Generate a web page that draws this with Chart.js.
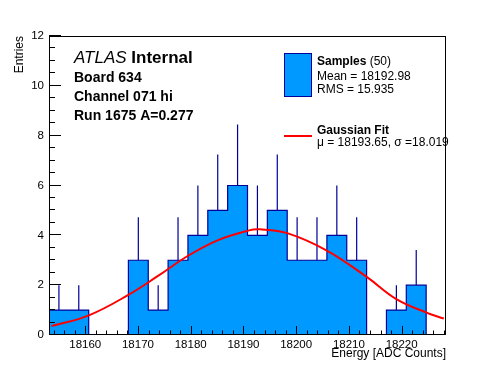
<!DOCTYPE html>
<html>
<head>
<meta charset="utf-8">
<title>Energy histogram</title>
<script src="https://cdn.jsdelivr.net/npm/chart.js@4/dist/chart.umd.min.js"></script>
<style>
  body { margin: 0; background: #fff; }
  #wrap { width: 496px; height: 372px; }
</style>
</head>
<body>
<div id="wrap"><canvas id="hist" width="496" height="372"></canvas></div>
<script>
// Histogram range and bin contents (20 bins)
var histLow = 18153.13;
var histHigh = 18228.41;
var counts = [1, 1, 0, 0, 3, 1, 3, 4, 5, 6, 4, 5, 3, 3, 4, 3, 0, 1, 2, 0];
// top of the error bar for each bin (null = no bar)
var errTop = [2.0, 2.0, null, null, 4.73, 2.0, 4.73, 6.0, 7.24, 8.45, 6.0, 7.24, 4.73, 4.73, 6.0, 4.73, null, 2.0, 3.41, null];

// Gaussian fit curve
var fitX = [18153.6, 18160.7, 18168.1, 18173.8, 18179.5, 18185.2, 18190.9, 18193.1, 18198.3, 18205.9, 18213.5, 18219.0, 18224.7, 18228.0];
var fitY = [0.36, 0.79, 1.60, 2.37, 3.18, 3.81, 4.19, 4.24, 4.09, 3.38, 2.31, 1.44, 0.90, 0.66];

// Axis ticks
var xTickStep = 10;
var yTicks = [0, 2, 4, 6, 8, 10, 12];

var FONT = "'Liberation Sans', Arial, Helvetica, sans-serif";
var fillBlue = "#0099ff";
var lineBlue = "#000099";

// build the step outline and error bars from the bins
var binW = (histHigh - histLow) / counts.length;
var stepPts = [{ x: histLow, y: 0 }];
var errPts = [];
for (var i = 0; i < counts.length; i++) {
  stepPts.push({ x: histLow + i * binW, y: counts[i] });
  if (errTop[i] !== null) {
    var c = histLow + (i + 0.5) * binW;
    errPts.push({ x: c, y: counts[i] });
    errPts.push({ x: c, y: errTop[i] });
    errPts.push({ x: c, y: null });
  }
}
stepPts.push({ x: histHigh, y: 0 });

var fitPts = fitX.map(function (x, k) { return { x: x, y: fitY[k] }; });

// inward ticks, frame, labels and legend (ROOT style)
var rootStyle = {
  id: "rootStyle",
  afterDatasetsDraw: function (chart) {
    var ctx = chart.ctx, a = chart.chartArea;
    var xs = chart.scales.x, ys = chart.scales.y;
    ctx.save();
    ctx.strokeStyle = "#000";
    ctx.lineWidth = 1;
    ctx.beginPath();
    // y ticks every 0.5
    for (var v = ys.min; v <= ys.max + 1e-6; v += 0.5) {
      var py = Math.round(ys.getPixelForValue(v)) - 0.5;
      var len = (Math.abs(v % 2) < 1e-6) ? 12 : 6;
      ctx.moveTo(a.left, py);
      ctx.lineTo(a.left + len, py);
    }
    // x ticks every 2
    for (var t = Math.ceil(xs.min / 2) * 2; t <= xs.max; t += 2) {
      var px = Math.round(xs.getPixelForValue(t)) + 0.5;
      var l2 = (t % xTickStep === 0) ? 9 : 4.5;
      ctx.moveTo(px, a.bottom);
      ctx.lineTo(px, a.bottom - l2);
    }
    ctx.stroke();
    ctx.strokeRect(a.left + 0.5, a.top + 0.5, a.right - a.left - 1, a.bottom - a.top - 1);
    ctx.restore();
  },
  afterDraw: function (chart) {
    var ctx = chart.ctx, a = chart.chartArea;
    ctx.save();
    ctx.fillStyle = "#000";
    ctx.textBaseline = "alphabetic";

    // axis titles
    ctx.font = "12px " + FONT;
    ctx.textAlign = "right";
    ctx.fillText("Energy [ADC Counts]", a.right, 357);
    ctx.save();
    ctx.translate(23, a.top);
    ctx.rotate(-Math.PI / 2);
    ctx.fillText("Entries", 0, 0);
    ctx.restore();

    // ATLAS label block
    ctx.textAlign = "left";
    ctx.font = "italic 17px " + FONT;
    ctx.fillText("ATLAS", 74, 63);
    var w = ctx.measureText("ATLAS ").width;
    ctx.font = "bold 17px " + FONT;
    ctx.fillText("Internal", 74 + w, 63);
    ctx.font = "bold 14px " + FONT;
    ctx.fillText("Board 634", 74, 82);
    ctx.fillText("Channel 071 hi", 74, 101);
    ctx.fillText("Run 1675 A=0.277", 74, 120);

    // legend: samples
    ctx.fillStyle = fillBlue;
    ctx.fillRect(284, 53, 28, 44);
    ctx.strokeStyle = lineBlue;
    ctx.lineWidth = 1;
    ctx.strokeRect(284.5, 53.5, 27, 43);
    ctx.fillStyle = "#000";
    ctx.font = "bold 12px " + FONT;
    ctx.fillText("Samples", 317, 65);
    var w2 = ctx.measureText("Samples ").width;
    ctx.font = "12px " + FONT;
    ctx.fillText("(50)", 317 + w2, 65);
    ctx.fillText("Mean = 18192.98", 317, 80);
    ctx.fillText("RMS = 15.935", 317, 93);

    // legend: fit
    ctx.strokeStyle = "#ff0000";
    ctx.lineWidth = 2;
    ctx.beginPath();
    ctx.moveTo(284, 136);
    ctx.lineTo(312, 136);
    ctx.stroke();
    ctx.font = "bold 12px " + FONT;
    ctx.fillText("Gaussian Fit", 317, 134);
    ctx.font = "12px " + FONT;
    ctx.fillText("\u03bc = 18193.65, \u03c3 =18.019", 317, 146);
    ctx.restore();
  }
};

var ctx = document.getElementById("hist").getContext("2d");
var chart = new Chart(ctx, {
  type: "line",
  data: {
    datasets: [
      {
        label: "Gaussian Fit",
        data: fitPts,
        borderColor: "#ff0000",
        borderWidth: 2,
        pointRadius: 0,
        tension: 0.4,
        fill: false
      },
      {
        label: "errors",
        data: errPts,
        borderColor: lineBlue,
        borderWidth: 1.2,
        pointRadius: 0,
        spanGaps: false,
        fill: false
      },
      {
        label: "Samples",
        data: stepPts,
        stepped: "before",
        borderColor: lineBlue,
        borderWidth: 1.2,
        backgroundColor: fillBlue,
        pointRadius: 0,
        fill: "origin"
      }
    ]
  },
  options: {
    responsive: false,
    animation: false,
    layout: { padding: { left: 0, top: 36, right: 50, bottom: 0 } },
    plugins: {
      legend: { display: false },
      tooltip: { enabled: false }
    },
    scales: {
      x: {
        type: "linear",
        min: histLow,
        max: histHigh,
        grid: { display: false, drawTicks: false },
        border: { display: false },
        ticks: {
          stepSize: xTickStep,
          includeBounds: false,
          padding: 3,
          color: "#000",
          maxRotation: 0,
          font: { family: FONT, size: 11.5 },
          callback: function (v) { return String(v); }
        },
        afterFit: function (s) { s.height = 37; }
      },
      y: {
        min: yTicks[0],
        max: yTicks[yTicks.length - 1],
        grid: { display: false, drawTicks: false },
        border: { display: false },
        ticks: {
          stepSize: 2,
          padding: 5,
          color: "#000",
          font: { family: FONT, size: 11.5 }
        },
        afterFit: function (s) { s.width = 49; }
      }
    }
  },
  plugins: [rootStyle]
});
</script>
</body>
</html>
